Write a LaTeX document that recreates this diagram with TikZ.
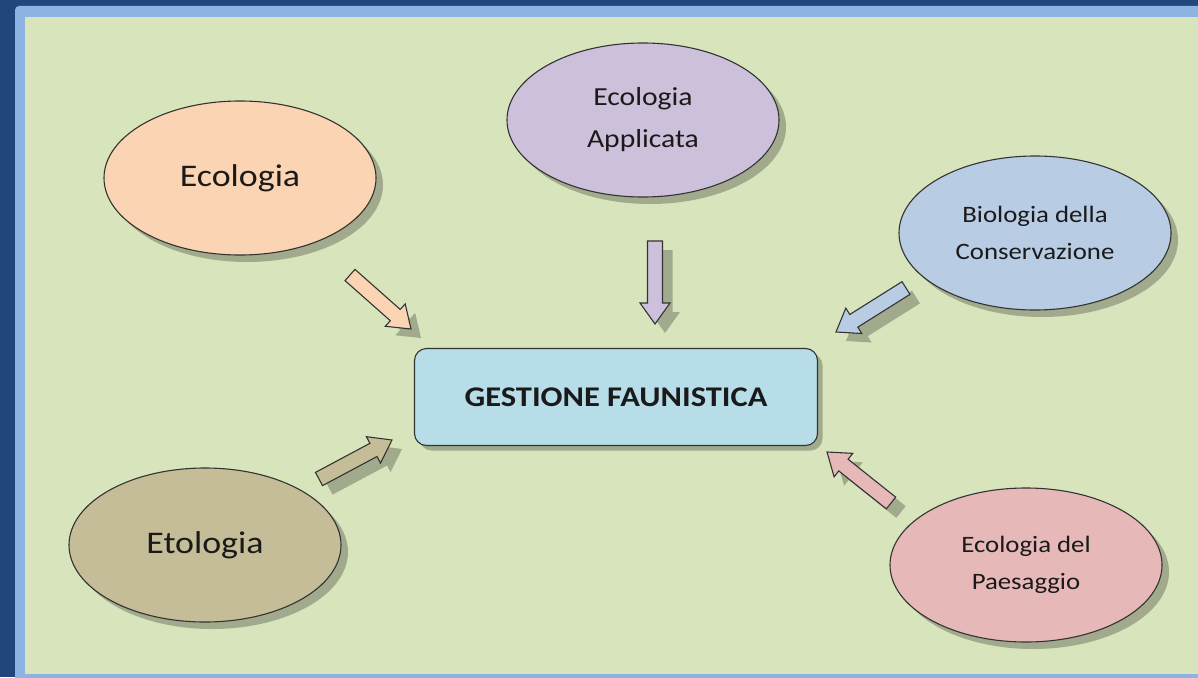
\documentclass[tikz,border=0pt]{standalone}
\usepackage{fontspec}
\setmainfont{Carlito}[FakeStretch=1.14]
\usetikzlibrary{shapes.geometric,shadows,calc}

\definecolor{framedark}{HTML}{1F477C}
\definecolor{framelight}{HTML}{8DB3E2}
\definecolor{paper}{HTML}{D7E4BC}
\definecolor{inktext}{HTML}{1A1A1A}
\definecolor{inkline}{HTML}{333333}
\definecolor{peach}{HTML}{FBD4B4}
\definecolor{lilac}{HTML}{CCC0DA}
\definecolor{skyblue}{HTML}{B8CCE4}
\definecolor{khaki}{HTML}{C4BD97}
\definecolor{rose}{HTML}{E6B9B8}
\definecolor{hubblue}{HTML}{B7DEE8}

\tikzset{
  bubble/.style={ellipse, draw=inkline, line width=1.1pt, minimum width=272pt,
    minimum height=154pt, inner sep=0pt, align=center, text=inktext,
    drop shadow={shadow xshift=7pt, shadow yshift=-7pt, fill=black, opacity=0.25}},
  hubbox/.style={rectangle, rounded corners=12pt, draw=inkline, line width=1.1pt,
    fill=hubblue, minimum width=403pt, minimum height=97pt, text=inktext,
    font=\fontsize{28.5pt}{32pt}\selectfont\bfseries,
    drop shadow={shadow xshift=5pt, shadow yshift=-5pt, fill=black, opacity=0.25}},
  blockarrow/.style={draw=inkline, line width=1.1pt, line join=miter,
    drop shadow={shadow xshift=10pt, shadow yshift=-9pt, fill=black, opacity=0.25}},
}

% freccia piena da #1 a #2, colore #3
\newcommand{\blockarrow}[3]{%
  \path[blockarrow, fill=#3] let \p1=($(#2)-(#1)$), \n1={atan2(\y1,\x1)},
    \n2={veclen(\x1,\y1)} in [shift={(#1)}, rotate=\n1]
    (0pt,7.5pt) -- (\n2-21pt,7.5pt) -- (\n2-21pt,15pt) -- (\n2,0pt)
    -- (\n2-21pt,-15pt) -- (\n2-21pt,-7.5pt) -- (0pt,-7.5pt) -- cycle;}

\begin{document}
\begin{tikzpicture}[x=1pt, y=-1pt]
  \useasboundingbox (0,0) rectangle (1198,677);

  % cornice
  \fill[framedark] (0,0) rectangle (1198,677);
  \fill[framelight, rounded corners=4pt] (15,6) rectangle (1210,690);
  \fill[paper] (25,17) rectangle (1210,674);

  % ellissi
  \node[bubble, fill=peach, font=\fontsize{31.5pt}{37pt}\selectfont] (eco) at (240,178) {Ecologia};
  \node[bubble, fill=lilac, font=\fontsize{26pt}{42pt}\selectfont] (appl) at (643,120) {Ecologia\\Applicata};
  \node[bubble, fill=skyblue, font=\fontsize{23.5pt}{37pt}\selectfont] (bio) at (1035,233) {Biologia della\\Conservazione};
  \node[bubble, fill=khaki, font=\fontsize{31.5pt}{37pt}\selectfont] (eto) at (205,545) {Etologia};
  \node[bubble, fill=rose, font=\fontsize{23.5pt}{37pt}\selectfont] (pae) at (1026,565) {Ecologia del\\Paesaggio};

  % centro
  \node[hubbox] (gf) at (616,397) {GESTIONE FAUNISTICA};

  % frecce
  \coordinate (ecoS) at (350,275);  \coordinate (ecoE) at (411,329);
  \coordinate (applS) at (655,241); \coordinate (applE) at (655,324);
  \coordinate (bioS) at (906,288);  \coordinate (bioE) at (836,332);
  \coordinate (etoS) at (319,479);  \coordinate (etoE) at (392,440);
  \coordinate (paeS) at (891,503);  \coordinate (paeE) at (827,452);

  \blockarrow{ecoS}{ecoE}{peach}
  \blockarrow{applS}{applE}{lilac}
  \blockarrow{bioS}{bioE}{skyblue}
  \blockarrow{etoS}{etoE}{khaki}
  \blockarrow{paeS}{paeE}{rose}
\end{tikzpicture}
\end{document}
